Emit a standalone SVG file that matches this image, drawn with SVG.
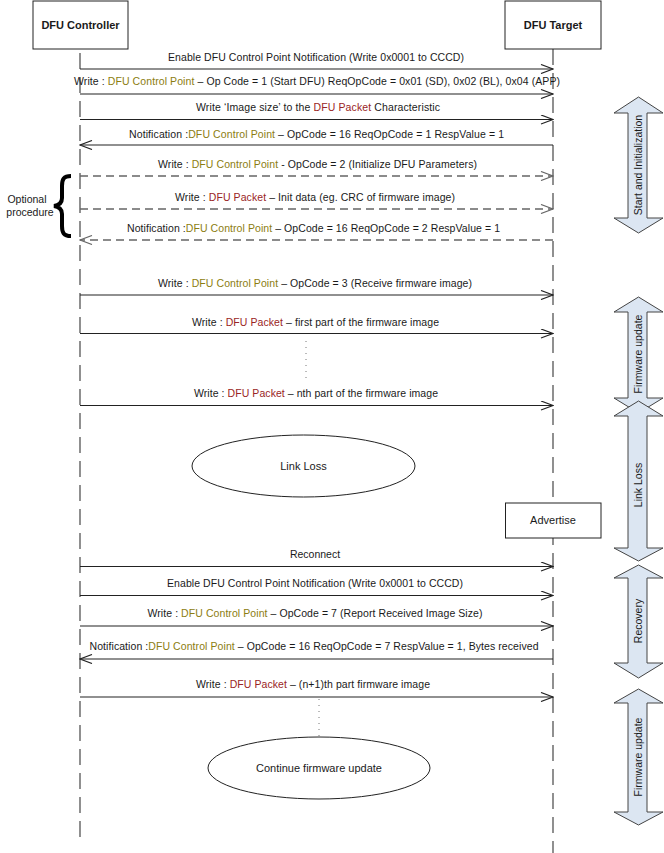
<svg xmlns="http://www.w3.org/2000/svg" width="664" height="853" viewBox="0 0 664 853">
<style>
text{font-family:"Liberation Sans",Arial,sans-serif;fill:#1a1a1a}
.box{fill:#fff;stroke:#222;stroke-width:1}
.hdr{font-size:11px;font-weight:bold;text-anchor:middle}
.lbl{font-size:10.5px;text-anchor:middle}
.life{stroke:#555;stroke-width:1.3;stroke-dasharray:16 8;fill:none}
.msg{stroke:#222;stroke-width:1.2;fill:none;marker-end:url(#ah)}
.dmsg{stroke:#666;stroke-width:1.3;stroke-dasharray:8 5;fill:none;marker-end:url(#ahd)}
.cp{fill:#8c7d10}
.pk{fill:#9a2424}
.phase{fill:#dce6f2;stroke:#444;stroke-width:1}
.ptxt{font-size:10.5px;text-anchor:middle}
.dots{stroke:#777;stroke-width:1;stroke-dasharray:1 5;fill:none}
</style>
<defs>
<marker id="ah" viewBox="0 0 14 10" markerWidth="14" markerHeight="10" refX="13" refY="5" orient="auto" markerUnits="userSpaceOnUse">
<path d="M1,0.5 L13,5 L1,9.5" fill="none" stroke="#222" stroke-width="1.2"/>
</marker>
<marker id="ahd" viewBox="0 0 14 10" markerWidth="14" markerHeight="10" refX="13" refY="5" orient="auto" markerUnits="userSpaceOnUse">
<path d="M1,0.5 L13,5 L1,9.5" fill="none" stroke="#666" stroke-width="1.2"/>
</marker>
</defs>
<rect width="664" height="853" fill="#fff"/>

<g id="lifelines">
<line class="life" x1="80" y1="53" x2="80" y2="837"/>
<line class="life" x1="553" y1="49" x2="553" y2="853"/>
</g>

<g id="controller">
<rect class="box" x="33" y="1" width="95" height="48"/>
<text class="hdr" x="80.5" y="29">DFU Controller</text>
</g>
<g id="target">
<rect class="box" x="505" y="1" width="96" height="48"/>
<text class="hdr" x="553" y="29">DFU Target</text>
</g>

<g id="connectors">
<g><text class="lbl" x="316" y="61" textLength="296">Enable DFU Control Point Notification (Write 0x0001 to CCCD)</text>
<line class="msg" x1="80" y1="69" x2="553" y2="69"/></g>
<g><text class="lbl" x="317" y="85" textLength="486">Write : <tspan class="cp">DFU Control Point</tspan> – Op Code = 1 (Start DFU) ReqOpCode = 0x01 (SD), 0x02 (BL), 0x04 (APP)</text>
<line class="msg" x1="80" y1="94" x2="553" y2="94"/></g>
<g><text class="lbl" x="318" y="111" textLength="244">Write ‘Image size’ to the <tspan class="pk">DFU Packet</tspan> Characteristic</text>
<line class="msg" x1="80" y1="119.5" x2="553" y2="119.5"/></g>
<g><text class="lbl" x="316.5" y="138" textLength="375">Notification :<tspan class="cp">DFU Control Point</tspan> – OpCode = 16 ReqOpCode = 1 RespValue = 1</text>
<line class="msg" x1="553" y1="145" x2="80" y2="145"/></g>
<g><text class="lbl" x="317.5" y="167.5" textLength="319">Write : <tspan class="cp">DFU Control Point</tspan> - OpCode = 2 (Initialize DFU Parameters)</text>
<line class="dmsg" x1="80" y1="176" x2="553" y2="176"/></g>
<g><text class="lbl" x="315" y="201" textLength="280">Write : <tspan class="pk">DFU Packet</tspan> – Init data (eg. CRC of firmware image)</text>
<line class="dmsg" x1="80" y1="209" x2="553" y2="209"/></g>
<g><text class="lbl" x="313.5" y="232" textLength="373">Notification :<tspan class="cp">DFU Control Point</tspan> – OpCode = 16 ReqOpCode = 2 RespValue = 1</text>
<line class="dmsg" x1="553" y1="240" x2="80" y2="240"/></g>
<g><text class="lbl" x="315" y="286.5" textLength="314">Write : <tspan class="cp">DFU Control Point</tspan> – OpCode = 3 (Receive firmware image)</text>
<line class="msg" x1="80" y1="295" x2="553" y2="295"/></g>
<g><text class="lbl" x="315.5" y="325.5" textLength="247">Write : <tspan class="pk">DFU Packet</tspan> – first part of the firmware image</text>
<line class="msg" x1="80" y1="333.5" x2="553" y2="333.5"/></g>
<line class="dots" x1="306" y1="341" x2="306" y2="383"/>
<g><text class="lbl" x="316" y="397" textLength="244">Write : <tspan class="pk">DFU Packet</tspan> – nth part of the firmware image</text>
<line class="msg" x1="80" y1="405.5" x2="553" y2="405.5"/></g>
<g><text class="lbl" x="315" y="558">Reconnect</text>
<line class="msg" x1="80" y1="566.5" x2="553" y2="566.5"/></g>
<g><text class="lbl" x="315" y="587" textLength="296">Enable DFU Control Point Notification (Write 0x0001 to CCCD)</text>
<line class="msg" x1="80" y1="595.5" x2="553" y2="595.5"/></g>
<g><text class="lbl" x="315" y="617" textLength="335">Write : <tspan class="cp">DFU Control Point</tspan> – OpCode = 7 (Report Received Image Size)</text>
<line class="msg" x1="80" y1="626" x2="553" y2="626"/></g>
<g><text class="lbl" x="314" y="650" textLength="449">Notification :<tspan class="cp">DFU Control Point</tspan> – OpCode = 16 ReqOpCode = 7 RespValue = 1, Bytes received</text>
<line class="msg" x1="553" y1="659" x2="80" y2="659"/></g>
<g><text class="lbl" x="313" y="688" textLength="234">Write : <tspan class="pk">DFU Packet</tspan> – (n+1)th part firmware image</text>
<line class="msg" x1="80" y1="697" x2="553" y2="697"/></g>
<line class="dots" x1="319" y1="699" x2="319" y2="737"/>
</g>

<g id="optional">
<path d="M71,176 C63.5,176 62,179.5 62,186 L62,198 C62,203 59.5,205.2 54,206 C59.5,206.8 62,209 62,214 L62,226 C62,232.5 63.5,236 71,236" fill="none" stroke="#000" stroke-width="4"/>
<text class="lbl" x="27" y="203">Optional</text>
<text class="lbl" x="30" y="216">procedure</text>
</g>

<g id="linkloss">
<ellipse class="box" cx="303.5" cy="466" rx="111.5" ry="31"/>
<text class="lbl" x="303.5" y="469.5" style="font-size:11px">Link Loss</text>
</g>

<g id="advertise">
<rect class="box" x="505.5" y="503" width="95.5" height="35"/>
<text class="lbl" x="553" y="524" style="font-size:11px">Advertise</text>
</g>

<g id="continue">
<ellipse class="box" cx="319" cy="768" rx="111" ry="31"/>
<text class="lbl" x="319" y="771.5" style="font-size:11px">Continue firmware update</text>
</g>

<g id="phase-start">
<polygon class="phase" points="638.5,97 663,113 647,113 647,218 663,218 638.5,233 614,218 628,218 628,113 614,113"/>
<text class="ptxt" transform="translate(642,165) rotate(-90)">Start and Initialization</text>
</g>
<g id="phase-fw1">
<polygon class="phase" points="638.5,297 663,312 647,312 647,398 663,398 638.5,413 614,398 628,398 628,312 614,312"/>
<text class="ptxt" transform="translate(642,354) rotate(-90)">Firmware update</text>
</g>
<g id="phase-linkloss">
<polygon class="phase" points="638.5,401 663,416 647,416 647,548 663,548 638.5,561 614,548 628,548 628,416 614,416"/>
<text class="ptxt" transform="translate(642,485) rotate(-90)">Link Loss</text>
</g>
<g id="phase-recovery">
<polygon class="phase" points="638.5,565 663,578 647,578 647,663 663,663 638.5,678 614,663 628,663 628,578 614,578"/>
<text class="ptxt" transform="translate(642,621) rotate(-90)">Recovery</text>
</g>
<g id="phase-fw2">
<polygon class="phase" points="638.5,689 663,703 647,703 647,812 663,812 638.5,825 614,812 628,812 628,703 614,703"/>
<text class="ptxt" transform="translate(642,757) rotate(-90)">Firmware update</text>
</g>
</svg>
